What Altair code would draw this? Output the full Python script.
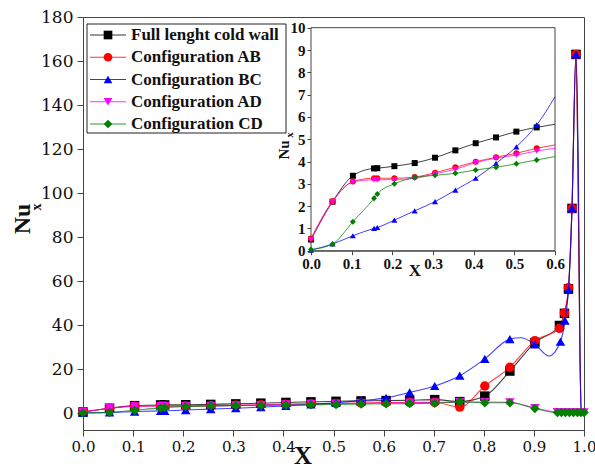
import altair as alt
import pandas as pd

# ---- series -------------------------------------------------------------
NAMES = ["Full lenght cold wall", "Configuration AB", "Configuration BC",
         "Configuration AD", "Configuration CD"]
COLORS = ["#000000", "#ff0000", "#0000ff", "#ff00ff", "#008000"]
SHAPES = ["square", "circle", "triangle-up", "triangle-down", "diamond"]

# stations along the cold wall that carry a symbol
X_BASE = [0.0, 0.053, 0.103, 0.155, 0.163, 0.205, 0.255, 0.305, 0.355, 0.405,
          0.455, 0.505, 0.555, 0.605, 0.652, 0.702, 0.752, 0.802, 0.852, 0.902]
X_PEAK = [0.951, 0.961, 0.969, 0.976, 0.984]
X_PEAK_BC = [0.953, 0.962, 0.969, 0.976, 0.984]
X_END = [0.947, 0.955, 0.963, 0.971, 0.979, 0.987, 0.994, 1.0]

# extra curve points (no symbol)
X_DROP = [0.988, 0.992, 0.995, 1.0]
X_BC_EXTRA = [0.874, 0.93, 0.989, 0.992, 0.994, 1.0]

FULL_Y = [0.5, 2.2, 3.36, 3.69, 3.70, 3.79, 3.93, 4.17, 4.5, 4.82, 5.08, 5.34,
          5.53, 5.67, 5.85, 6.1, 5.2, 7.7, 19.1, 32.0,
          39.8, 45.3, 56.5, 93.0, 163.0]
FULL_DROP = [110.0, 25.0, 0.5, 0.3]

AB_Y = [0.55, 2.22, 3.1, 3.25, 3.25, 3.25, 3.3, 3.5, 3.74, 3.99, 4.19, 4.37,
        4.59, 4.74, 4.9, 4.9, 2.7, 12.3, 20.8, 32.9,
        38.5, 45.5, 57.0, 93.0, 163.0]
AB_DROP = [110.0, 25.0, 0.5, 0.3]

BC_Y = [0.03, 0.3, 0.67, 1.0, 1.04, 1.37, 1.79, 2.2, 2.72, 3.25, 3.92, 4.66,
        5.64, 6.9, 9.4, 12.3, 17.0, 24.6, 33.6, 31.2,
        32.5, 42.0, 56.0, 93.0, 163.0]
BC_EXTRA = [34.2, 25.9, 105.0, 30.0, 1.5, 0.5]

AD_Y = [0.5, 2.2, 3.08, 3.18, 3.18, 3.19, 3.24, 3.45, 3.65, 3.95, 4.15, 4.29,
        4.47, 4.59, 4.7, 4.8, 5.0, 5.0, 4.9, 2.3,
        0.4, 0.3, 0.3, 0.3, 0.3, 0.3, 0.3, 0.3]

CD_Y = [0.05, 0.3, 1.3, 2.35, 2.54, 3.0, 3.28, 3.38, 3.47, 3.62, 3.74, 3.9,
        4.07, 4.22, 4.3, 4.5, 5.1, 4.7, 4.7, 2.1,
        0.2, 0.2, 0.2, 0.2, 0.2, 0.2, 0.2, 0.2]

SERIES = [
    (NAMES[0], X_BASE + X_PEAK, FULL_Y, X_DROP, FULL_DROP),
    (NAMES[1], X_BASE + X_PEAK, AB_Y, X_DROP, AB_DROP),
    (NAMES[3], X_BASE + X_END, AD_Y, [], []),
    (NAMES[2], X_BASE + X_PEAK_BC, BC_Y, X_BC_EXTRA, BC_EXTRA),
    (NAMES[4], X_BASE + X_END, CD_Y, [], []),
]

rows = []
for name, mx, my, cx, cy in SERIES:
    for x, y in zip(mx, my):
        rows.append({"series": name, "x": x, "y": y, "mk": True})
    for x, y in zip(cx, cy):
        rows.append({"series": name, "x": x, "y": y, "mk": False})
df = pd.DataFrame(rows)

STYLE = {n: (c, s) for n, c, s in zip(NAMES, COLORS, SHAPES)}

# ---- layout (pixels inside the plot area) --------------------------------
W, H = 501, 413
AXIS_C = "#444"
TICK_FONT = "DejaVu Serif"
SERIF = "Liberation Serif"

x_main = alt.X("x:Q", scale=alt.Scale(domain=[0, 1], nice=False, zero=False),
               axis=alt.Axis(values=[i / 10 for i in range(11)], format=".1f",
                             title=None, grid=False, tickSize=6, labelPadding=3,
                             labelFont=TICK_FONT, labelFontSize=15,
                             labelColor="#111", labelFlush=False,
                             labelOverlap=False, domainColor=AXIS_C,
                             tickColor=AXIS_C))
y_main = alt.Y("y:Q", scale=alt.Scale(domain=[-7.7, 180], nice=False, zero=False),
               axis=alt.Axis(values=list(range(0, 181, 20)), title=None,
                             grid=False, tickSize=6, labelPadding=4,
                             labelFont=TICK_FONT, labelFontSize=17,
                             labelColor="#111", labelFlush=False,
                             labelOverlap=False, domainColor=AXIS_C,
                             tickColor=AXIS_C))

IN_XS = alt.Scale(domain=[0, 0.6], range=[228, 472], nice=False, zero=False,
                  clamp=True)
IN_YS = alt.Scale(domain=[0, 10], range=[233.7, 10.7], nice=False, zero=False)
x_in = alt.X("x:Q", scale=IN_XS,
             axis=alt.Axis(orient="bottom", offset=-179.3,
                           values=[i / 10 for i in range(7)], format=".1f",
                           title=None, grid=False, tickSize=4, labelPadding=2,
                           labelFont=SERIF, labelFontWeight="bold",
                           labelFontSize=15, labelColor="#111", labelFlush=False,
                           labelOverlap=False, domainColor=AXIS_C,
                           tickColor=AXIS_C))
y_in = alt.Y("y:Q", scale=IN_YS,
             axis=alt.Axis(orient="left", offset=-228, values=list(range(11)),
                           title=None, grid=False, tickSize=4, labelPadding=2,
                           labelFont=SERIF, labelFontWeight="bold",
                           labelFontSize=15, labelColor="#111", labelFlush=False,
                           labelOverlap=False, domainColor=AXIS_C,
                           tickColor=AXIS_C))

# ---- main plot ----------------------------------------------------------
main_layers = []
for name, *_ in SERIES:
    col, shp = STYLE[name]
    base = alt.Chart(df).transform_filter(alt.datum.series == name)
    main_layers.append(
        base.mark_line(interpolate="monotone", strokeWidth=1.1, color=col,
                       opacity=0.75).encode(x=x_main, y=y_main))
    main_layers.append(
        base.transform_filter(alt.datum.mk)
        .mark_point(shape=shp, filled=True, size=90, color=col, opacity=1)
        .encode(x=x_main, y=y_main))
main = alt.layer(*main_layers)

# ---- inset (0 <= x <= 0.6) -----------------------------------------------
frame = alt.Chart(pd.DataFrame({"k": [0]})).mark_rect(
    fill="white", stroke=AXIS_C, strokeWidth=1).encode(
    x=alt.X(datum=0, type="quantitative"), x2=alt.X2(datum=0.6),
    y=alt.Y(datum=0, type="quantitative"), y2=alt.Y2(datum=10))
inset_layers = [frame]
for name, *_ in SERIES:
    col, shp = STYLE[name]
    base = alt.Chart(df).transform_filter(
        (alt.datum.series == name) & (alt.datum.x <= 0.61))
    inset_layers.append(
        base.mark_line(interpolate="monotone", strokeWidth=1, color=col,
                       opacity=0.75).encode(x=x_in, y=y_in))
    inset_layers.append(
        base.transform_filter(alt.datum.mk & (alt.datum.x <= 0.58))
        .mark_point(shape=shp, filled=True, size=36, color=col, opacity=1)
        .encode(x=x_in, y=y_in))
inset = alt.layer(*inset_layers)

# ---- legend box ---------------------------------------------------------
leg_df = pd.DataFrame({"name": NAMES, "idx": list(range(len(NAMES)))})
leg_base = alt.Chart(leg_df).transform_calculate(py="18 + 22.25 * datum.idx")
leg_y = alt.Y("py:Q", scale=None, axis=None)
leg_color = alt.Color("name:N", scale=alt.Scale(domain=NAMES, range=COLORS),
                      legend=None)
leg_shape = alt.Shape("name:N", scale=alt.Scale(domain=NAMES, range=SHAPES),
                      legend=None)
leg_frame = alt.Chart(pd.DataFrame({"k": [0]})).mark_rect(
    fill="white", stroke="#222", strokeWidth=1).encode(
    x=alt.value(4), x2=alt.value(203), y=alt.value(7), y2=alt.value(116))
leg_line = leg_base.mark_rule(strokeWidth=1.2, opacity=0.8).encode(
    x=alt.value(7), x2=alt.value(43), y=leg_y, color=leg_color)
leg_pts = leg_base.mark_point(filled=True, size=75, opacity=1).encode(
    x=alt.value(25), y=leg_y, color=leg_color, shape=leg_shape)
leg_txt = leg_base.mark_text(align="left", baseline="middle", font=SERIF,
                             fontWeight="bold", fontSize=17,
                             color="#111").encode(
    x=alt.value(48), y=leg_y, text="name:N")
legend = alt.layer(leg_frame, leg_line, leg_pts, leg_txt)

# ---- axis titles --------------------------------------------------------
one = pd.DataFrame({"k": [0]})


def label(txt, x, y, size, angle=0, bold=True):
    return alt.Chart(one).mark_text(
        text=txt, font=SERIF, fontSize=size, angle=angle, align="center",
        baseline="middle", fontWeight="bold" if bold else "normal",
        color="#111").encode(x=alt.value(x), y=alt.value(y))


titles = alt.layer(
    label("X", 220, 439, 25),
    label("Nu", -60, 202, 24, angle=270),
    label("x", -46, 190, 14, angle=270),
    label("X", 332, 254, 17),
    label("Nu", 201, 133, 15, angle=270),
    label("x", 207, 118, 11, angle=270),
)

chart = alt.layer(main, inset, legend, titles).resolve_scale(
    x="independent", y="independent"
).resolve_axis(
    x="independent", y="independent"
).properties(
    width=W, height=H,
    autosize=alt.AutoSizeParams(type="none"),
    padding={"left": 83, "top": 17, "right": 11, "bottom": 40},
).configure_view(stroke=AXIS_C, strokeWidth=1)

chart.save("out.html", embed_options={"renderer": "svg", "actions": False})
